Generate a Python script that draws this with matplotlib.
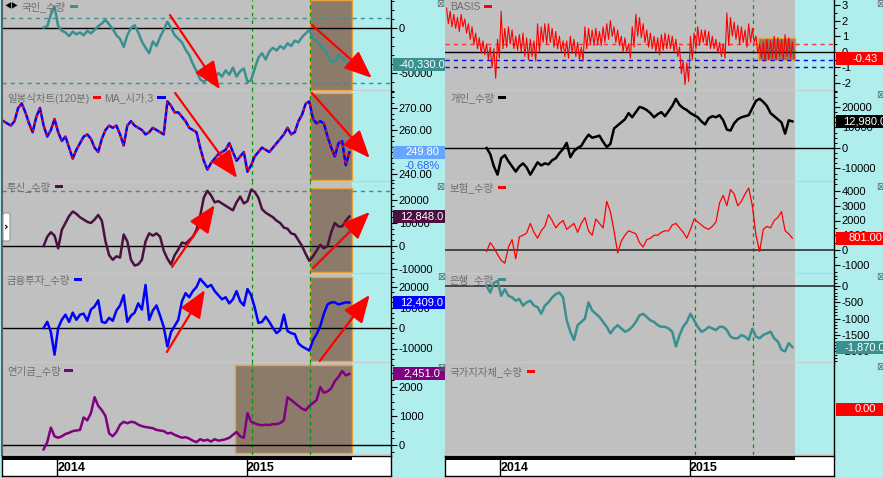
import numpy as np
import pandas as pd
import matplotlib
matplotlib.use("Agg")
import matplotlib.pyplot as plt
import matplotlib.dates as mdates
from matplotlib.offsetbox import TextArea, HPacker, AnchoredOffsetbox, DrawingArea
from matplotlib.patches import Rectangle, FancyArrowPatch, FancyBboxPatch
from matplotlib.ticker import MultipleLocator, FixedLocator, FuncFormatter

plt.rcParams['font.family'] = ['Liberation Sans', 'Noto Sans CJK KR', 'DejaVu Sans']

# ---------------- data (weekly samples) ----------------
weeks = pd.date_range('2013-09-20', periods=96, freq='7D')
flow_weeks = weeks[11:]          # investor flow series start in Dec 2013

# 일봉식차트 (price)
price = [264, 263, 262, 264, 270, 272, 268, 263, 259, 266,
         270, 262, 257, 260, 265, 259, 255, 257, 252, 247,
         251, 254, 257, 258, 256, 252, 250, 256, 260, 262,
         261, 262, 258, 253, 262, 264, 262, 261, 260, 258,
         259, 261, 260, 259, 258, 273, 271, 268, 268, 266,
         264, 261, 260, 259, 252, 246, 242, 245, 247, 249,
         250, 251, 254, 250, 246, 248, 250, 241, 244, 248,
         250, 252, 251, 250, 252, 254, 256, 258, 261, 258,
         259, 264, 267, 272, 273, 265, 263, 264, 263, 257,
         252, 248, 254, 255, 244, 249.8]
price_change_pct = -0.68

# 국인_수량 (foreign)
foreign = [500, 2000, 15000, 24000, 2000, -3000, -5000, -9000, -4000, -7000,
           -5000, -8000, -3000, -6000, -2000, 2000, 5000, 9000, 4000, -1000,
           -8000, -12000, -21000, -8000, 0, 3000, -5000, -15000, -22000, -28000,
           -15000, -20000, -10000, -2000, 7000, 0, -8000, -12000, -16000, -24000,
           -30000, -40000, -48000, -57000, -60000, -56000, -52000, -55000, -50000, -54000,
           -47000, -52000, -44000, -54000, -48000, -45000, -60000, -58000, -45000, -33000,
           -28000, -35000, -26000, -22000, -25000, -20000, -23000, -17000, -20000, -14000,
           -16000, -10000, -6000, -2000, -12000, -14000, -19000, -23000, -30000, -37000,
           -38000, -30000, -33000, -37000, -40330]
foreign_levels = [11000, -61000]

# 투신_수량 (investment trust)
trust = [0, 4000, 6000, 4500, -1000, 7000, 10000, 13000, 15000, 14000,
         12500, 11500, 10500, 10000, 11500, 13500, 11000, 2000, -4000, -6000,
         -4500, -5000, 5000, 2000, -6000, -8500, -8000, -6000, 2000, 5500,
         4500, 5500, 4000, -2000, -5500, -8000, -4000, -1500, 1500, 1000,
         2500, 4000, 7000, 13000, 21000, 24000, 22000, 19000, 19500, 18500,
         17500, 16500, 15500, 19000, 21500, 18500, 19500, 24500, 23500, 21000,
         16000, 14500, 13500, 12500, 11000, 10000, 8000, 7500, 5500, 5000,
         2500, 0, -3500, -6500, -4500, -2000, 500, -1000, 0, 6000,
         10000, 8500, 8500, 11000, 12848]
trust_levels = [24000]

# 금융투자_수량 (financial investment)
fin_invest = [0, 3000, -2000, -13000, 0, 4000, 6500, 3000, 7500, 4000,
              6500, 7000, 3500, 9000, 10500, 13500, 3000, 2500, 5000, 3500,
              8500, 11000, 16000, 3000, 6000, 7500, 12000, 9000, 21000, 4000,
              8500, 11000, 6000, 500, -9000, -2000, 1000, 4000, 13000, 17000,
              15000, 18000, 20000, 24000, 22000, 20000, 21000, 18000, 16000, 14000,
              15000, 12000, 14000, 18000, 13000, 11000, 19000, 16000, 10000, 2500,
              3000, 5500, 3000, 0, -2500, -1000, 6500, -1500, -2500, -3000,
              -7500, -9000, -10000, -11000, -6000, -3000, 1000, 7000, 11500, 12500,
              12500, 11500, 12000, 12500, 12409]

# 연기금_수량 (pension)
pension = [-150, 100, 600, 300, 250, 300, 380, 420, 480, 500,
           520, 950, 850, 1100, 1650, 1350, 1200, 1000, 400, 300,
           450, 700, 800, 750, 800, 780, 700, 650, 620, 600,
           580, 520, 500, 480, 400, 420, 350, 300, 250, 270,
           220, 150, 100, 200, 150, 180, 120, 200, 150, 170,
           200, 250, 350, 450, 300, 250, 1100, 800, 750, 700,
           680, 700, 690, 720, 720, 760, 850, 1650, 1550, 1450,
           1350, 1250, 1200, 1350, 1450, 1550, 2000, 1800, 1850, 1950,
           2200, 2350, 2550, 2400, 2451]

# BASIS: weekly high / low
basis_hi = [2.8, 2.6, 2.4, 2.2, 2.4, 2.1, 1.8, 1.6, 1.2, 0.9,
            0.7, 0.5, 0.3, 0.2, 0.8, 2.6, 1.5, 1.6, 1.4, 1.0,
            1.1, 1.2, 0.9, 0.8, 0.7, 1.8, 1.6, 1.8, 1.8, 1.5,
            1.3, 1.0, 0.7, 0.7, 1.0, 0.8, 0.6, 0.3, 1.6, 1.5,
            1.4, 1.5, 1.3, 1.6, 1.8, 2.0, 1.6, 1.4, 1.0, 0.9,
            0.5, 1.6, 2.4, 2.2, 1.8, 1.4, 1.2, 1.0, 0.9, 1.1,
            1.2, 1.1, 1.0, 0.8, 0.3, -0.6, -0.7, 1.0, 1.2, 1.6,
            1.4, 1.4, 1.3, 1.0, 0.8, 0.6, 0.5, 2.5, 2.2, 1.9,
            1.7, 1.6, 1.4, 1.8, 1.5, 1.0, 0.5, 0.6, 0.8, 0.7,
            1.0, 0.9, 0.8, 1.1, 0.9, 0.6]
basis_lo = [1.8, 1.6, 1.5, 1.3, 1.6, 1.2, 0.8, 0.5, 0.2, -0.1,
            -0.2, -0.5, -1.0, -1.7, -0.4, 0.2, 0.3, 0.5, 0.2, 0.1,
            0.0, -0.3, -0.5, -0.3, -0.6, 0.0, 0.6, 0.5, 0.6, 0.3,
            0.2, 0.0, -0.3, -0.4, -0.1, -0.3, -0.5, -0.6, 0.2, 0.5,
            0.4, 0.5, 0.4, 0.6, 0.8, 1.0, 0.6, 0.4, 0.0, 0.0,
            -0.4, 0.3, 1.0, 0.9, 0.6, 0.3, 0.2, 0.0, -0.2, 0.1,
            0.2, 0.2, 0.0, -0.3, -1.4, -2.1, -1.9, -0.5, 0.2, 0.4,
            0.6, 0.4, 0.2, 0.2, -0.1, -0.3, -0.4, 0.4, 1.0, 0.8,
            0.5, 0.6, 0.3, 0.6, 0.6, -0.1, -0.4, -0.6, -0.5, -0.4,
            -0.5, -0.3, -0.5, -0.3, -0.4, -0.43]
basis_upper_level = [0.5]
basis_lower_levels = [-0.5, -1.0]

# 개인_수량 (individual)
individual = [0, -3000, -9000, -13000, -5000, -3500, -6500, -9000, -11500, -9000,
              -7500, -9500, -13000, -10000, -7000, -8500, -7500, -8000, -6000, -5000,
              -2500, -500, 2500, -4500, -1500, 0, 1000, 4000, 6500, 5000,
              5500, 6000, 3000, 500, 2000, 9500, 11000, 12500, 14000, 17000,
              15000, 17500, 20000, 19500, 18500, 17000, 15000, 16500, 17500, 15500,
              18000, 20500, 24000, 21000, 19500, 18500, 17000, 16000, 15000, 13000,
              11500, 14500, 15500, 15000, 16000, 13500, 9000, 8500, 12000, 14000,
              15000, 15500, 16000, 19500, 23000, 24000, 22500, 20500, 17000, 15500,
              14000, 12500, 7000, 13500, 12980]

# 보험_수량 (insurance)
insurance = [-100, 500, 150, -300, -700, -900, 200, 700, -600, 900,
             1000, 1150, 1800, 1200, 800, 1300, 1600, 2400, 2000, 1500,
             1800, 2000, 1400, 1600, 1800, 1200, 1800, 2200, 1300, 1000,
             2100, 1800, 1500, 3300, 2600, 1300, -200, 600, 1000, 1300,
             1200, 1100, 500, 200, 700, 800, 1000, 1000, 1200, 1300,
             1300, 1700, 1800, 1500, 1200, 800, 1400, 2100, 1900, 1700,
             1500, 1400, 1600, 1900, 3200, 3700, 3000, 4100, 3800, 3000,
             3300, 3800, 4200, 3000, 1000, -100, 1400, 1600, 1500, 2000,
             2200, 2600, 1300, 1100, 801]

# 은행_수량 (bank)
bank = [0, -200, 100, 150, -300, -100, -300, -350, -450, -400,
        -600, -500, -450, -600, -650, -850, -600, -500, -350, -250,
        -200, -350, -1050, -1400, -1650, -1200, -1100, -1000, -500, -750,
        -850, -950, -1100, -1250, -1450, -1300, -1200, -1300, -1400, -1350,
        -1250, -1100, -900, -850, -950, -1050, -1100, -1200, -1250, -1250,
        -1300, -1400, -1850, -1500, -1250, -1100, -850, -1050, -1250, -1400,
        -1350, -1250, -1300, -1350, -1250, -1250, -1350, -1550, -1600, -1600,
        -1500, -1550, -1650, -1300, -1550, -1600, -1500, -1450, -1400, -1600,
        -1700, -1950, -2000, -1750, -1870]

# 국가지자체_수량 (government): no line drawn, last value only
gov_last = 0.0

# time axis markers
x_start, x_end = pd.Timestamp('2013-09-17'), pd.Timestamp('2015-10-05')
gray_end = pd.Timestamp('2015-07-22')
vlines = [pd.Timestamp('2015-01-11'), pd.Timestamp('2015-05-02')]
pension_shade_start = pd.Timestamp('2014-12-09')
basis_shade_start = pd.Timestamp('2015-05-12')
year_ticks = [pd.Timestamp('2014-01-01'), pd.Timestamp('2015-01-01')]
year_labels = ['2014', '2015']

# hand drawn red arrows (start, tip) per left panel
arrows = {
    0: [(('2014-08-06', 14400), ('2014-11-10', -68000)),
        (('2015-05-06', 3300), ('2015-08-29', -55500))],
    1: [(('2014-08-16', 276.8), ('2014-12-13', 238.2)),
        (('2015-05-06', 276.8), ('2015-08-25', 247.3))],
    2: [(('2014-08-10', -9100), ('2014-10-31', 17800)),
        (('2015-05-08', -9600), ('2015-08-25', 14800))],
    3: [(('2014-07-31', -11700), ('2014-10-12', 18500)),
        (('2015-05-21', -16100), ('2015-08-25', 16100))],
}

# ---------------- styling / layout ----------------
W, H = 883, 478
CYAN = '#b0eeee'
GRAY = '#c0c0c0'
BROWN = '#8c7b6b'
ORANGE = '#e8a23c'
LABEL_GRAY = '#6e6e6e'
TEAL = '#3a8f8f'
PLUM = '#4a1040'
PURPLE = '#800080'
GREEN = '#009900'

ROWS = [(0, 91), (91, 182), (182, 274), (274, 363), (363, 455)]
LEFT = (2, 391)
RIGHT = (445, 834)

fig = plt.figure(figsize=(W / 100, H / 100), dpi=100)
fig.patch.set_facecolor(CYAN)


def px_axes(x0, y0, x1, y1, **kw):
    return fig.add_axes([x0 / W, 1 - y1 / H, (x1 - x0) / W, (y1 - y0) / H], **kw)


def value_limits(y0, y1, cal):
    va, ya, vb, yb = cal
    per_px = (va - vb) / (yb - ya)
    return va - (y1 - ya) * per_px, va - (y0 - ya) * per_px


def panel(cols, row, cal, major, minor, tickfmt='{:.0f}', left_edge=False):
    y0, y1 = ROWS[row]
    ax = px_axes(cols[0], y0, cols[1], y1)
    ax.set_facecolor(CYAN)
    ax.set_xlim(x_start, x_end)
    ax.set_ylim(*value_limits(y0, y1, cal))
    ax.axvspan(x_start, gray_end, color=GRAY, lw=0, zorder=0)
    ax.axhline(ax.get_ylim()[0], color='#cacaca', lw=2, zorder=0.5)
    for s in ('top', 'bottom', 'left'):
        ax.spines[s].set_visible(False)
    ax.spines['right'].set_color('black')
    ax.spines['right'].set_linewidth(1)
    if left_edge:
        ax.spines['left'].set_visible(True)
        ax.spines['left'].set_color('#606060')
        ax.spines['left'].set_linewidth(1.5)
    ax.set_xticks([])
    ax.yaxis.tick_right()
    if major:
        ax.yaxis.set_major_locator(FixedLocator(major))
        ax.yaxis.set_major_formatter(FuncFormatter(lambda v, p: tickfmt.format(v)))
    else:
        ax.set_yticks([])
    if minor:
        ax.yaxis.set_minor_locator(MultipleLocator(minor))
    ax.tick_params(axis='y', which='major', direction='out', length=4, width=0.8,
                   labelsize=8, pad=1.5)
    ax.tick_params(axis='y', which='minor', direction='out', length=2, width=0.7)
    for v in vlines:
        ax.axvline(v, color=GREEN, lw=0.9, ls=(0, (3, 3)), zorder=1)
    return ax


def shade(ax, start, ymin, ymax):
    ax.axvspan(start, gray_end, ymin=ymin, ymax=ymax, facecolor=BROWN,
               edgecolor=ORANGE, lw=1, zorder=0.8)


def dash(color):
    da = DrawingArea(7, 6, 0, 0)
    da.add_artist(Rectangle((0.5, 2), 6, 2.2, facecolor=color, edgecolor='none'))
    return da


def series_label(ax, x, y, parts):
    kids = []
    for kind, val in parts:
        if kind == 'text':
            kids.append(TextArea(val, textprops=dict(color=LABEL_GRAY, fontsize=7.5)))
        elif kind == 'icon':
            kids.append(TextArea(val, textprops=dict(color='black', fontsize=5)))
        else:
            kids.append(dash(val))
    box = AnchoredOffsetbox(loc='center left',
                            child=HPacker(children=kids, align='center', pad=0, sep=2),
                            pad=0, borderpad=0, frameon=False,
                            bbox_to_anchor=(x / W, 1 - y / H),
                            bbox_transform=fig.transFigure)
    box.set_zorder(6)
    ax.add_artist(box)


def arrow(ax, p0, p1):
    a = FancyArrowPatch((mdates.date2num(pd.Timestamp(p0[0])), p0[1]),
                        (mdates.date2num(pd.Timestamp(p1[0])), p1[1]),
                        transform=ax.transData,
                        arrowstyle='-|>,head_length=1.7,head_width=0.7',
                        mutation_scale=10, color='#ff0000', lw=1.6,
                        shrinkA=0, shrinkB=0, zorder=4)
    fig.add_artist(a)


def value_box(strip, ax, axis_px, date, value, text, color, txtcolor='white'):
    y = ax.transData.transform((mdates.date2num(date), value))[1]
    strip.add_patch(Rectangle((axis_px + 2, y - 6.5), 58, 13, facecolor=color,
                              edgecolor='none'))
    strip.text(axis_px + 31, y, text, color=txtcolor, ha='center', va='center',
               fontsize=8, clip_on=True)
    return y


def label_strip(x0, x1):
    s = fig.add_axes([x0 / W, 0, (x1 - x0) / W, 1], zorder=5)
    s.set_xlim(x0, x1)
    s.set_ylim(0, H)
    s.patch.set_alpha(0)
    s.axis('off')
    return s


def time_strip(cols):
    sx = px_axes(cols[0], 456, cols[1], 476)
    sx.set_facecolor('white')
    for s in sx.spines.values():
        s.set_color('black')
        s.set_linewidth(1)
    sx.set_xlim(x_start, x_end)
    sx.set_ylim(0, 1)
    sx.set_xticks([])
    sx.set_yticks([])
    sx.axvspan(x_start, gray_end, ymin=0.8, ymax=1, color='black', lw=0)
    for d, lab in zip(year_ticks, year_labels):
        sx.axvline(d, color='black', lw=1)
        sx.text(d, 0.38, lab, ha='left', va='center', fontsize=9, fontweight='bold')


# ---------------- left chart ----------------
ax1 = panel(LEFT, 0, (0, 28, -50000, 73), [-50000, 0], 10000, left_edge=True)
ax1.plot(flow_weeks, foreign, color=TEAL, lw=1.8, zorder=2)
ax1.axhline(0, color='black', lw=1, zorder=1.5)
for lv in foreign_levels:
    ax1.axhline(lv, color=TEAL, lw=1, ls=(0, (3, 3)), zorder=1.5)
shade(ax1, vlines[1], 0.01, 1.0)
series_label(ax1, 5, 7, [('icon', '◀▶'), ('text', '국인_수량'), ('dash', TEAL)])

ax2 = panel(LEFT, 1, (270, 108, 260, 130), [240, 250, 260, 270], 2.5, '{:.2f}', left_edge=True)
ax2.plot(weeks, price, color='#0000ff', lw=1.8, zorder=2)
ax2.plot(weeks, price, color='#ff0000', lw=1.3, ls=(0, (1.5, 2.5)), zorder=2.1)
shade(ax2, vlines[1], 0.022, 0.978)
series_label(ax2, 7, 98, [('text', '일봉식차트(120분)'), ('dash', '#ff0000'),
                          ('text', 'MA_시가,3'), ('dash', '#0000ff')])

ax3 = panel(LEFT, 2, (20000, 200, 0, 246), [-10000, 0, 10000, 20000], 2500, left_edge=True)
ax3.plot(flow_weeks, trust, color=PLUM, lw=1.8, zorder=2)
ax3.axhline(0, color='black', lw=1, zorder=1.5)
for lv in trust_levels:
    ax3.axhline(lv, color=TEAL, lw=1, ls=(0, (3, 3)), zorder=1.5)
shade(ax3, vlines[1], 0.022, 0.935)
series_label(ax3, 7, 187, [('text', '투신_수량'), ('dash', PLUM)])

ax4 = panel(LEFT, 3, (20000, 287, 0, 328), [-10000, 0, 10000, 20000], 2500, left_edge=True)
ax4.plot(flow_weeks, fin_invest, color='#0000ff', lw=1.8, zorder=2)
ax4.axhline(0, color='black', lw=1, zorder=1.5)
shade(ax4, vlines[1], 0.022, 0.966)
series_label(ax4, 7, 280, [('text', '금융투자_수량'), ('dash', '#0000ff')])

ax5 = panel(LEFT, 4, (2000, 387, 0, 445), [0, 1000, 2000], 250, left_edge=True)
ax5.plot(flow_weeks, pension, color=PURPLE, lw=1.8, zorder=2)
ax5.axhline(0, color='black', lw=1, zorder=1.5)
shade(ax5, pension_shade_start, 0.022, 0.978)
series_label(ax5, 7, 371, [('text', '연기금_수량'), ('dash', PURPLE)])

left_axes = [ax1, ax2, ax3, ax4, ax5]
for i, pairs in arrows.items():
    for p0, p1 in pairs:
        arrow(left_axes[i], p0, p1)

# ---------------- right chart ----------------
r1 = panel(RIGHT, 0, (3, 5, -2, 83), [-2, -1, 0, 1, 2, 3], 0.5)
basis_x = np.empty(2 * len(weeks), dtype='datetime64[ns]')
basis_x[0::2] = weeks.values
basis_x[1::2] = (weeks + pd.Timedelta(hours=84)).values
basis_y = np.empty(2 * len(weeks))
basis_y[0::2] = basis_hi
basis_y[1::2] = basis_lo
r1.axvspan(basis_shade_start, gray_end, ymin=0.34, ymax=0.58, facecolor=BROWN,
           edgecolor=ORANGE, lw=1, zorder=0.8)
r1.plot(basis_x, basis_y, color='#ff0000', lw=0.8, zorder=2)
r1.axhline(0, color='black', lw=1, zorder=1.5)
for lv in basis_upper_level:
    r1.axhline(lv, color='#ff3030', lw=1, ls=(0, (3, 3)), zorder=1.5)
for lv in basis_lower_levels:
    r1.axhline(lv, color='#0000ff', lw=1, ls=(0, (3, 3)), zorder=1.5)
series_label(r1, 450, 7, [('text', 'BASIS'), ('dash', '#ff0000')])

r2 = panel(RIGHT, 1, (20000, 107, 0, 148), [-10000, 0, 10000, 20000], 2500)
r2.plot(flow_weeks, individual, color='black', lw=1.8, zorder=2)
r2.axhline(0, color='black', lw=1, zorder=1.5)
series_label(r2, 450, 98, [('text', '개인_수량'), ('dash', 'black')])

r3 = panel(RIGHT, 2, (4000, 191, 0, 250), [-1000, 0, 1000, 2000, 3000, 4000], 500)
r3.plot(flow_weeks, insurance, color='#ff0000', lw=0.9, zorder=2)
r3.axhline(0, color='#303030', lw=1.2, zorder=1.5)
series_label(r3, 450, 188, [('text', '보험_수량'), ('dash', '#ff0000')])

r4 = panel(RIGHT, 3, (0, 286, -1500, 335), [-2000, -1500, -1000, -500, 0], 100)
r4.plot(flow_weeks, bank, color=TEAL, lw=1.8, zorder=2)
r4.axhline(0, color='#303030', lw=1.2, zorder=1.5)
series_label(r4, 450, 280, [('text', '은행_수량'), ('dash', TEAL)])

r5 = panel(RIGHT, 4, (1, 364, -1, 454), [], None)
series_label(r5, 450, 372, [('text', '국가지자체_수량'), ('dash', '#ff0000')])

# ---------------- time strips ----------------
time_strip(LEFT)
time_strip(RIGHT)

# ---------------- last value boxes ----------------
ls_ = label_strip(LEFT[1], 445)
last = weeks[-1]
value_box(ls_, ax1, LEFT[1], last, foreign[-1], f'{foreign[-1]:,.1f}', TEAL)
yp = value_box(ls_, ax2, LEFT[1], last, price[-1], f'{price[-1]:.2f}', '#66a6ff')
ls_.text(LEFT[1] + 31, yp - 14, f'{price_change_pct:.2f}%', color='#2a62f0',
         ha='center', va='center', fontsize=8, clip_on=True)
value_box(ls_, ax3, LEFT[1], last, trust[-1], f'{trust[-1]:,.1f}', PLUM)
value_box(ls_, ax4, LEFT[1], last, fin_invest[-1], f'{fin_invest[-1]:,.1f}', '#0000ff')
value_box(ls_, ax5, LEFT[1], last, pension[-1], f'{pension[-1]:,.1f}', PURPLE)

rs_ = label_strip(RIGHT[1], W)
value_box(rs_, r1, RIGHT[1], last, basis_lo[-1], f'{basis_lo[-1]:.2f}', '#ff0000')
value_box(rs_, r2, RIGHT[1], last, individual[-1], f'{individual[-1]:,.1f}', 'black')
value_box(rs_, r3, RIGHT[1], last, insurance[-1], f'{insurance[-1]:.2f}', '#ff0000')
value_box(rs_, r4, RIGHT[1], last, bank[-1], f'{bank[-1]:,.1f}', TEAL)
value_box(rs_, r5, RIGHT[1], last, gov_last, f'{gov_last:.2f}', '#ff0000')

# ---------------- window chrome (close buttons, side tab) ----------------
ov = fig.add_axes([0, 0, 1, 1], zorder=10)
ov.set_xlim(0, W)
ov.set_ylim(H, 0)
ov.patch.set_alpha(0)
ov.axis('off')
for (x, y) in [(440, 4), (440, 187), (441, 277), (441, 368),
               (880, 4), (880, 95), (880, 187), (880, 277), (880, 367)]:
    ov.text(x, y, '⊠', fontsize=7, color='#666666', ha='center', va='center',
            family='DejaVu Sans')
ov.add_patch(FancyBboxPatch((3, 213), 7, 28, boxstyle='round,pad=0,rounding_size=2',
                            facecolor='white', edgecolor='#999999', lw=0.8))
ov.text(6.5, 227, '›', fontsize=8, fontweight='bold', ha='center', va='center',
        family='DejaVu Sans')

fig.savefig('out.png', dpi=100, facecolor=CYAN)
